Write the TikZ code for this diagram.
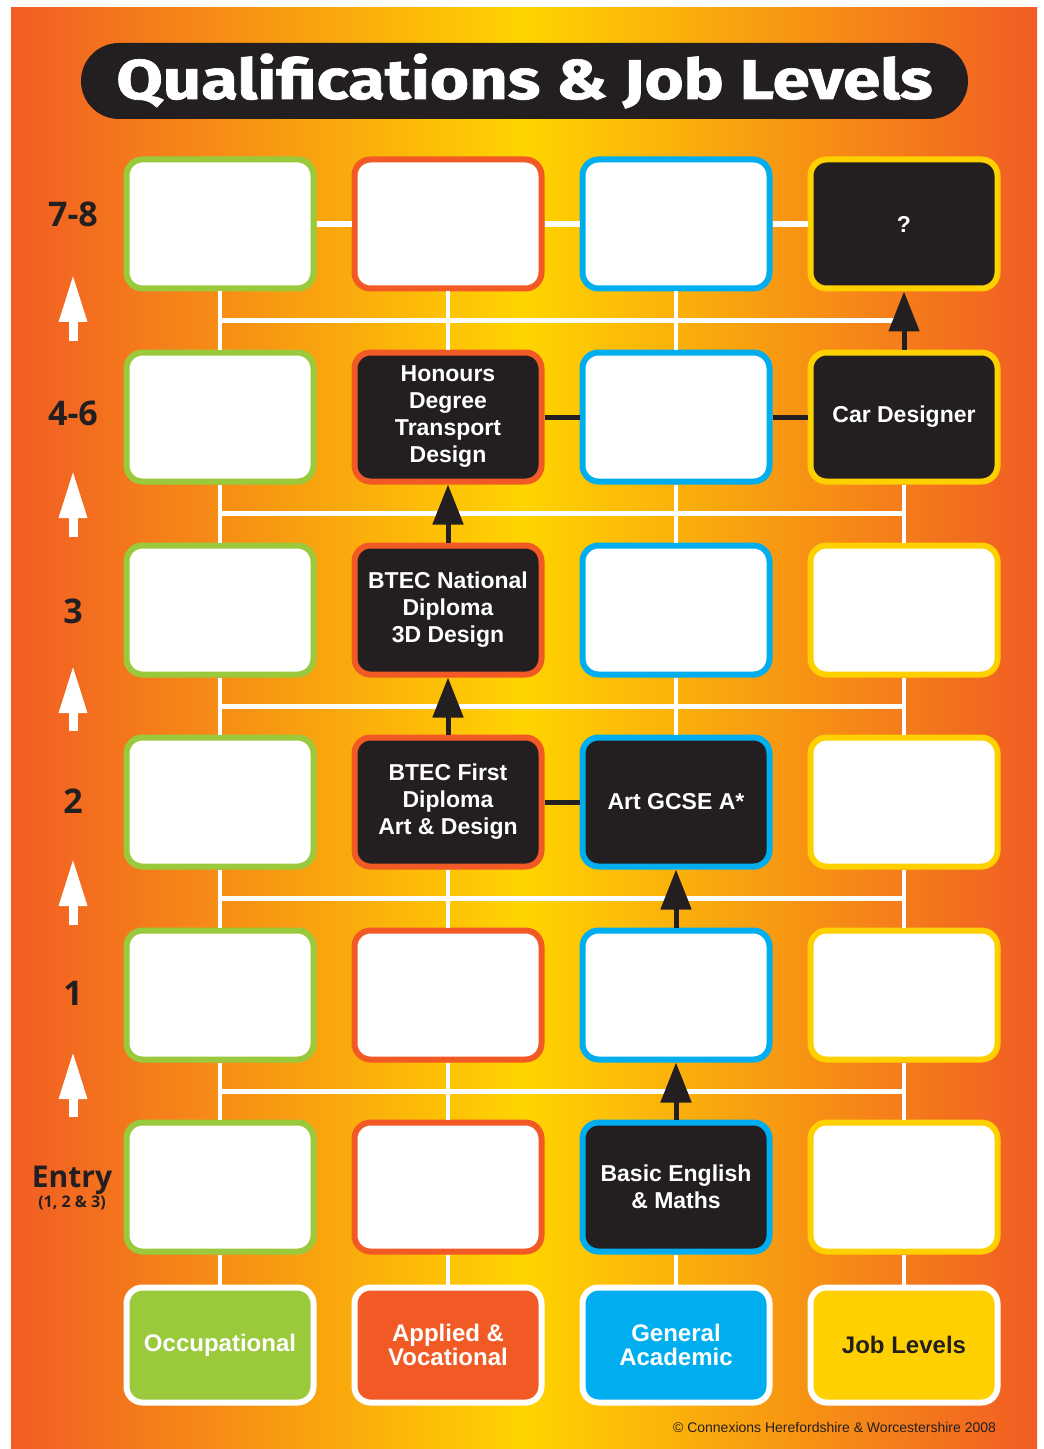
\documentclass[tikz,border=0pt]{standalone}
\usepackage{fontspec}
\setmainfont{Liberation Sans}
\newfontfamily\titlefont{Fira Sans}[FakeBold=1.2]
\newfontfamily\levelfont{Open Sans}
\usetikzlibrary{arrows.meta,calc}

\definecolor{bgedge}{RGB}{241,92,36}
\definecolor{bgmid}{RGB}{255,212,0}
\definecolor{occgreen}{RGB}{154,202,60}
\definecolor{apporange}{RGB}{241,90,36}
\definecolor{genblue}{RGB}{0,174,239}
\definecolor{jobyellow}{RGB}{255,208,0}
\definecolor{darkbox}{RGB}{35,31,32}

\begin{document}
\begin{tikzpicture}[x=0.5pt,y=-0.5pt,
    cell/.style={draw=#1, line width=3pt, rounded corners=8pt, fill=white,
      minimum width=93.5pt, minimum height=64.5pt, inner sep=1pt, align=center,
      text=white, font=\bfseries\fontsize{11.5}{13.5}\selectfont},
    dark/.style={fill=darkbox},
    category/.style={draw=white, line width=3pt, fill=#1, rounded corners=8pt,
      minimum width=93.5pt, minimum height=57.5pt, inner sep=1pt, align=center,
      text=white, font=\bfseries\fontsize{12}{12}\selectfont},
    level/.style={text=darkbox, anchor=base, font=\levelfont\bfseries\fontsize{17}{18}\selectfont},
    hwire/.style={draw=white, line width=3pt},
    vwire/.style={draw=white, line width=2pt},
    bus/.style={draw=white, line width=2.5pt},
    bwire/.style={draw=darkbox, line width=2.5pt},
    barrow/.style={draw=darkbox, line width=2.5pt, -{Triangle[width=15pt,length=20pt]}},
    uparrow/.style={draw=white, line width=4.5pt, -{Triangle[width=13pt,length=24pt]}}]
    \useasboundingbox (0,0) rectangle (1043,1449);

    % Background
    \fill[white] (0,0) rectangle (1043,1449);
    \shade[left color=bgedge, right color=bgedge, middle color=bgmid] (11,8) rectangle (1037,1449);

    % Title
    \node[fill=darkbox, rounded corners=19pt, minimum width=443.5pt, minimum height=38pt,
      text=white, font=\titlefont\bfseries\fontsize{28}{30}\selectfont] (title) at (524.5,81)
      {\scalebox{1.2}[1]{Qualifications \& Job Levels}};

    % Level labels
    \node[level] (lev78) at (73,227) {7-8};
    \node[level] (lev46) at (73,425) {4-6};
    \node[level] (lev3) at (73,623) {3};
    \node[level] (lev2) at (73,813) {2};
    \node[level] (lev1) at (73,1005) {1};
    \node[level, font=\levelfont\bfseries\fontsize{15}{16}\selectfont] (levE) at (72,1187) {Entry};
    \node[level, font=\levelfont\bfseries\fontsize{8}{9}\selectfont] (levEsub) at (72,1207) {(1, 2 \& 3)};

    % Level 7-8
    \node[cell=occgreen] (occ78) at (220,224) {};
    \node[cell=apporange] (app78) at (448,224) {};
    \node[cell=genblue] (gen78) at (676,224) {};
    \node[cell=jobyellow, dark] (job78) at (904,224) {?};

    % Level 4-6
    \node[cell=occgreen] (occ46) at (220,417) {};
    \node[cell=apporange, dark] (app46) at (448,417) {Honours\\Degree\\Transport\\Design};
    \node[cell=genblue] (gen46) at (676,417) {};
    \node[cell=jobyellow, dark] (job46) at (904,417) {Car Designer};

    % Level 3
    \node[cell=occgreen] (occ3) at (220,610) {};
    \node[cell=apporange, dark] (app3) at (448,610) {BTEC National\\Diploma\\3D Design};
    \node[cell=genblue] (gen3) at (676,610) {};
    \node[cell=jobyellow] (job3) at (904,610) {};

    % Level 2
    \node[cell=occgreen] (occ2) at (220,802) {};
    \node[cell=apporange, dark] (app2) at (448,802) {BTEC First\\Diploma\\Art \& Design};
    \node[cell=genblue, dark] (gen2) at (676,802) {Art GCSE A*};
    \node[cell=jobyellow] (job2) at (904,802) {};

    % Level 1
    \node[cell=occgreen] (occ1) at (220,995) {};
    \node[cell=apporange] (app1) at (448,995) {};
    \node[cell=genblue] (gen1) at (676,995) {};
    \node[cell=jobyellow] (job1) at (904,995) {};

    % Entry level
    \node[cell=occgreen] (occE) at (220,1187) {};
    \node[cell=apporange] (appE) at (448,1187) {};
    \node[cell=genblue, dark] (genE) at (676,1187) {Basic English\\\& Maths};
    \node[cell=jobyellow] (jobE) at (904,1187) {};

    % Pathways
    \node[category=occgreen] (occ) at (220,1345) {Occupational};
    \node[category=apporange] (app) at (448,1345) {Applied \&\\Vocational};
    \node[category=genblue] (gen) at (676,1345) {General\\Academic};
    \node[category=jobyellow, text=darkbox] (job) at (904,1345) {Job Levels};

    \node[anchor=base east, text=darkbox, font=\fontsize{7}{8}\selectfont] (copy) at (1003,1432)
      {\textcopyright{} Connexions Herefordshire \& Worcestershire 2008};

    % Buses between levels
    \draw[bus] ($(occ78.south)!.5!(occ46.north)$) -- ($(job78.south)!.5!(job46.north)$);
    \draw[bus] ($(occ46.south)!.5!(occ3.north)$) -- ($(job46.south)!.5!(job3.north)$);
    \draw[bus] ($(occ3.south)!.5!(occ2.north)$) -- ($(job3.south)!.5!(job2.north)$);
    \draw[bus] ($(occ2.south)!.5!(occ1.north)$) -- ($(job2.south)!.5!(job1.north)$);
    \draw[bus] ($(occ1.south)!.5!(occE.north)$) -- ($(job1.south)!.5!(jobE.north)$);

    % White links
    \draw[hwire] (occ78) -- (app78);
    \draw[hwire] (app78) -- (gen78);
    \draw[hwire] (gen78) -- (job78);

    \draw[vwire] (occ78) -- (occ46);
    \draw[vwire] (app78) -- (app46);
    \draw[vwire] (gen78) -- (gen46);
    \draw[vwire] (occ46) -- (occ3);
    \draw[vwire] (gen46) -- (gen3);
    \draw[vwire] (job46) -- (job3);
    \draw[vwire] (occ3) -- (occ2);
    \draw[vwire] (gen3) -- (gen2);
    \draw[vwire] (job3) -- (job2);
    \draw[vwire] (occ2) -- (occ1);
    \draw[vwire] (app2) -- (app1);
    \draw[vwire] (job2) -- (job1);
    \draw[vwire] (occ1) -- (occE);
    \draw[vwire] (app1) -- (appE);
    \draw[vwire] (job1) -- (jobE);
    \draw[vwire] (occE) -- (occ);
    \draw[vwire] (appE) -- (app);
    \draw[vwire] (genE) -- (gen);
    \draw[vwire] (jobE) -- (job);

    % Career route
    \draw[bwire] (app46) -- (gen46);
    \draw[bwire] (gen46) -- (job46);
    \draw[bwire] (app2) -- (gen2);
    \draw[barrow] (job46) -- (job78);
    \draw[barrow] (app3) -- (app46);
    \draw[barrow] (app2) -- (app3);
    \draw[barrow] (gen1) -- (gen2);
    \draw[barrow] (genE) -- (gen1);

    % Progression arrows
    \coordinate (up1a) at (73,341); \coordinate (up1b) at (73,274);
    \coordinate (up2a) at (73,537); \coordinate (up2b) at (73,470);
    \coordinate (up3a) at (73,731); \coordinate (up3b) at (73,665);
    \coordinate (up4a) at (73,925); \coordinate (up4b) at (73,858);
    \coordinate (up5a) at (73,1117); \coordinate (up5b) at (73,1051);
    \draw[uparrow] (up1a) -- (up1b);
    \draw[uparrow] (up2a) -- (up2b);
    \draw[uparrow] (up3a) -- (up3b);
    \draw[uparrow] (up4a) -- (up4b);
    \draw[uparrow] (up5a) -- (up5b);
\end{tikzpicture}
\end{document}
